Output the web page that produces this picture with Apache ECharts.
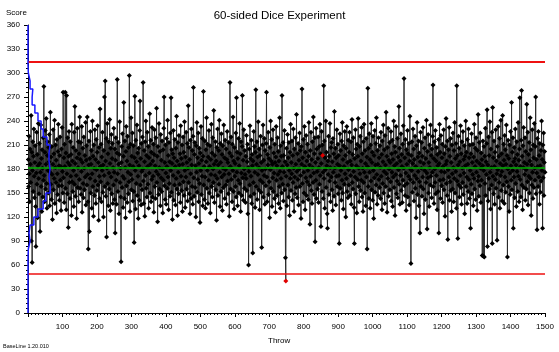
<!DOCTYPE html>
<html>
<head>
<meta charset="utf-8">
<script src="https://cdn.jsdelivr.net/npm/echarts@6/dist/echarts.min.js"></script>
<style>
  html, body { margin: 0; padding: 0; background: #fff; }
  #chart { width: 559px; height: 352px; }
</style>
</head>
<body>
<div id="chart"></div>
<script>
// score of each throw, 1..1500
const scores = [
  192,158,221,174,139,205,186,163,247,90,201,63,178,214,152,196,230,171,144,188,209,133,83,175,226,161,198,119,184,237,
  168,149,212,187,102,176,235,158,193,127,204,181,145,219,166,283,172,139,201,228,155,186,243,162,131,197,214,178,150,207,
  189,223,134,176,251,161,195,142,208,173,117,186,229,154,199,168,241,137,182,210,163,191,125,217,174,148,202,236,159,184,
  141,197,220,166,183,128,205,159,232,177,150,276,169,194,138,211,183,276,156,200,129,272,174,149,219,188,107,196,227,163,
  185,143,214,171,198,122,236,164,190,152,207,178,133,226,161,258,187,146,203,172,118,194,231,157,182,214,139,199,167,245,
  156,192,213,148,177,233,126,188,206,162,144,220,181,154,197,170,238,135,191,209,160,245,173,139,80,185,215,102,193,168,
  227,150,186,203,131,174,240,158,196,121,210,181,147,229,165,192,137,217,179,153,201,234,160,188,116,207,171,143,255,183,
  164,211,139,195,178,226,151,185,120,203,172,270,158,290,190,146,218,95,181,237,162,199,134,214,175,155,242,187,128,206,
  170,223,149,193,212,137,182,160,231,176,142,205,100,191,219,166,136,200,292,174,152,213,186,124,198,239,163,181,145,64,
  188,208,157,224,171,132,196,263,168,143,215,182,119,202,233,159,190,138,221,176,149,207,164,297,185,127,211,173,244,154,
  196,167,225,140,183,209,152,88,194,271,178,130,216,162,189,235,147,200,171,118,206,184,141,228,265,160,193,135,212,177,
  154,220,180,288,165,137,203,189,121,214,172,240,156,197,145,226,183,161,208,131,194,175,249,150,186,216,139,201,167,232,
  145,190,171,211,126,198,229,158,184,143,219,177,256,163,196,114,208,173,148,237,182,155,202,134,223,169,191,152,215,180,
  125,204,166,231,270,159,188,142,210,175,136,218,183,156,241,170,197,129,213,162,189,146,225,178,269,151,204,187,117,199,
  172,228,141,194,160,217,183,135,206,168,246,155,190,122,213,176,149,222,185,161,199,138,234,171,193,153,210,127,186,220,
  164,201,147,239,178,132,195,170,226,155,188,212,140,181,259,163,207,149,192,124,216,174,143,230,185,158,203,136,221,282,
  169,146,198,213,157,184,120,209,176,238,151,194,167,225,139,187,206,162,113,200,178,233,148,191,171,218,134,196,277,160,
  183,142,215,170,131,204,189,244,156,178,211,137,195,166,228,150,183,209,125,192,173,236,158,200,145,219,180,163,253,186,
  138,197,172,214,154,190,116,207,168,230,147,185,203,161,241,176,133,212,188,152,224,170,198,128,209,181,157,235,173,194,
  143,216,179,160,205,136,192,227,165,188,149,213,174,121,200,288,183,155,220,167,196,139,211,178,245,152,190,130,207,171,
  187,158,225,145,269,176,201,134,193,166,218,150,184,237,162,199,127,214,175,147,208,272,169,191,141,229,180,156,203,173,
  138,196,168,222,153,189,211,124,182,60,177,205,160,234,146,193,171,216,137,198,184,75,190,163,227,149,208,176,132,201,
  279,158,186,214,142,195,173,239,154,182,205,129,197,166,221,151,188,82,178,210,163,235,145,191,172,218,136,203,180,159,
  212,276,170,139,198,185,226,148,193,164,119,207,179,240,156,190,217,133,186,169,229,152,200,175,143,211,188,126,195,233,
  166,184,147,219,173,202,137,190,158,244,177,131,209,168,196,150,272,183,161,213,140,197,176,228,154,189,69,40,171,206,
  134,185,223,160,194,145,213,178,122,201,168,236,153,188,174,215,141,197,163,230,181,127,205,170,149,219,186,157,248,177,
  144,199,167,212,135,191,180,225,158,203,172,118,208,186,280,162,194,139,217,176,150,233,183,129,201,169,222,147,190,164,
  211,178,142,196,238,160,185,111,203,171,226,153,192,137,214,182,163,245,175,148,199,219,89,188,166,231,143,205,177,155,
  193,220,138,182,208,161,236,172,199,108,187,227,152,210,197,176,143,284,168,215,131,194,179,240,157,201,184,124,106,190,
  173,221,148,196,165,237,182,139,207,170,213,154,189,128,218,176,199,146,252,181,163,206,135,194,171,229,158,186,211,149,
  197,172,87,184,224,156,203,178,141,215,166,238,150,192,130,209,183,161,227,174,197,120,206,168,233,152,188,144,216,179,
  160,201,226,147,190,172,214,136,185,242,163,198,155,219,177,132,87,193,170,229,149,205,184,125,211,167,196,243,158,181,
  139,208,174,221,153,190,166,232,145,199,181,127,214,163,236,176,150,203,187,134,218,170,195,80,183,281,158,206,143,224,
  176,192,131,210,165,237,154,188,201,141,221,178,118,197,169,228,151,185,212,160,244,173,136,203,186,147,219,167,194,157,
  209,182,143,226,171,198,129,215,162,189,235,150,177,204,137,222,185,158,251,174,196,126,207,168,231,146,191,180,213,154,
  188,164,227,140,199,176,216,133,192,170,240,157,184,208,122,201,173,233,149,187,165,218,144,195,179,258,161,206,136,190,
  172,224,153,198,183,138,211,166,234,181,293,159,194,147,217,175,128,204,186,162,228,145,199,171,212,135,190,246,167,180,
  62,197,178,214,151,187,230,163,205,140,192,172,221,156,183,119,209,168,238,148,195,177,215,134,200,164,100,189,226,158,
  181,213,146,196,170,232,155,187,124,206,178,219,142,193,163,241,175,105,202,169,223,150,188,133,210,182,160,235,171,197,
  144,205,176,221,285,158,193,137,214,180,163,228,149,190,172,207,129,198,184,152,217,100,187,236,166,201,143,222,177,159,
  194,211,138,183,167,229,154,199,176,121,208,186,243,162,190,147,215,92,179,204,170,232,141,196,164,218,153,188,127,210,
  174,155,225,182,139,203,168,238,150,193,177,212,131,284,165,197,93,185,221,160,206,145,189,172,234,157,199,136,214,181,
  163,227,148,192,175,209,124,196,184,240,158,201,170,137,217,186,152,230,167,194,143,210,178,106,199,161,224,149,188,173,
  211,134,195,168,236,155,183,206,142,219,176,190,128,203,165,248,171,146,213,187,159,225,181,138,200,166,192,72,184,215,
  71,178,208,70,196,162,231,147,189,173,212,254,83,185,140,220,168,197,155,239,176,130,205,182,160,226,87,257,171,194,
  149,215,183,136,201,167,229,156,190,174,91,208,179,233,145,196,163,218,131,187,172,241,153,199,177,140,247,184,160,211,
  191,137,222,170,204,151,186,235,164,197,70,180,216,158,193,127,210,175,148,227,184,166,263,154,201,178,219,106,189,170,
  207,144,193,230,162,185,133,214,177,198,152,238,171,191,139,205,269,167,183,145,216,278,160,196,129,209,182,232,157,188,
  173,219,141,202,179,155,261,186,164,226,135,198,171,213,150,190,244,168,204,122,185,160,229,176,143,210,194,157,237,181,
  166,208,270,149,192,175,104,218,183,158,227,170,197,136,212,184,151,203,165,240,178,192,106,210,169,225,147,188,202,176
];
// throws drawn as red markers
const redThrows = [748, 855];
// blue frequency curve: lower edge of each 10-point score bin and its drawn frequency
const histBins = [0,10,20,30,40,50,60,70,80,90,100,110,120,130,140,150,160,170,180,190,200,210,220,230,240,250,260,270,280,290,300,310,320,330,340,350];
const histFreq = [0,0,0,0,0,0,0,1,6,3,6,17,29,44,52,64,61,64,61,61,64,55,44,38,29,20,12,14,6,1,0,0,0,0,0,0];
const centreLine = 181.5;
const upperLimit = 313.5;
const lowerLimit = 49.5;
const xTicks = [0, 1500, 100];
const yTicks = [0, 360, 30];

const font = 'Liberation Sans';

const points = scores.map((v, i) => {
  const t = i + 1;
  if (redThrows.indexOf(t) >= 0) {
    return { value: [t, v], itemStyle: { color: '#e00000' } };
  }
  return [t, v];
});

const histPoints = [];
histBins.forEach((b, i) => {
  histPoints.push([histFreq[i], b]);
  histPoints.push([histFreq[i], b + 10]);
});

const chart = echarts.init(document.getElementById('chart'));
chart.setOption({
  animation: false,
  title: {
    text: '60-sided Dice Experiment',
    left: 'center',
    top: 5,
    textStyle: { fontFamily: font, fontSize: 11.5, fontWeight: 'normal', color: '#000' }
  },
  graphic: [
    { type: 'text', left: 6, top: 9, style: { text: 'Score', font: '8px ' + font, fill: '#000' } },
    { type: 'text', left: 268, top: 337, style: { text: 'Throw', font: '8px ' + font, fill: '#000' } },
    { type: 'text', left: 3, top: 343, style: { text: 'BaseLine 1.20.010', font: '5.5px ' + font, fill: '#000' } }
  ],
  grid: { left: 28, right: 14, top: 25, bottom: 39, containLabel: false },
  xAxis: {
    type: 'value',
    min: xTicks[0],
    max: xTicks[1],
    interval: xTicks[2],
    splitLine: { show: false },
    axisLine: { lineStyle: { color: '#000', width: 1 } },
    axisTick: { length: 4, lineStyle: { color: '#000' } },
    minorTick: { show: true, splitNumber: 10, length: 2, lineStyle: { color: '#000' } },
    axisLabel: {
      fontFamily: font, fontSize: 8, color: '#000', margin: 10,
      formatter: (v) => (v === 0 ? '' : String(v))
    }
  },
  yAxis: {
    type: 'value',
    min: yTicks[0],
    max: yTicks[1],
    interval: yTicks[2],
    splitLine: { show: false },
    axisLine: { show: true, lineStyle: { color: '#000', width: 1 } },
    axisTick: { show: true, length: 4, lineStyle: { color: '#000' } },
    minorTick: { show: true, splitNumber: 5, length: 2, lineStyle: { color: '#000' } },
    axisLabel: { fontFamily: font, fontSize: 8, color: '#000', margin: 8 }
  },
  series: [
    {
      type: 'line',
      data: points,
      symbol: 'diamond',
      symbolSize: 5,
      showAllSymbol: true,
      sampling: null,
      itemStyle: { color: '#000' },
      lineStyle: { color: '#2a2a2a', width: 1 },
      emphasis: { disabled: true },
      markLine: {
        silent: true,
        symbol: 'none',
        label: { show: false },
        data: [
          { yAxis: upperLimit, lineStyle: { color: '#ee1111', width: 2, type: 'solid' } },
          { yAxis: lowerLimit, lineStyle: { color: '#ee1111', width: 1.5, type: 'solid' } },
          { yAxis: centreLine, lineStyle: { color: '#00b000', width: 1.5, type: 'solid' } }
        ]
      }
    },
    {
      type: 'line',
      data: histPoints,
      symbol: 'none',
      lineStyle: { color: '#1a1aff', width: 1.5 },
      z: 5
    }
  ]
});
</script>
</body>
</html>
